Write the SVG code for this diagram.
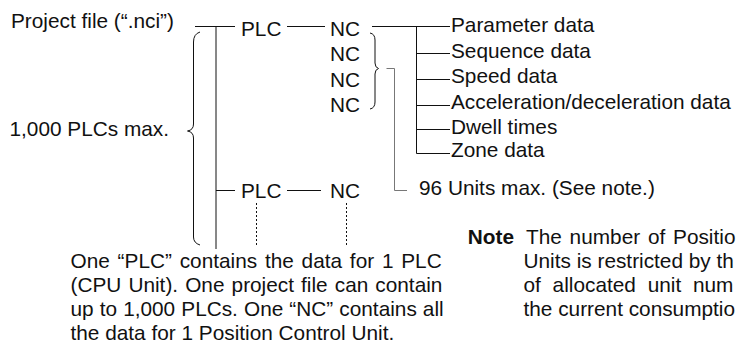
<svg xmlns="http://www.w3.org/2000/svg" width="736" height="343" viewBox="0 0 736 343">
<style>
text{font-family:"Liberation Sans",Arial,Helvetica,sans-serif;font-size:20.8px;fill:#111}
.b{font-weight:bold}
.ln{stroke:#111;stroke-width:1;fill:none}
.gr{stroke:#777;stroke-width:1;fill:none}
.dot{stroke:#111;stroke-width:1;fill:none;stroke-dasharray:2,2}
</style>
<rect width="736" height="343" fill="#fff"/>
<g id="connectors">
<path class="ln" d="M195,26.5H235M216,26.5V249M216,190.5H235"/>
<path class="ln" d="M200,32Q193.5,34 193.5,42V124Q193.5,130 187.5,131Q193.5,132 193.5,138V237Q193.5,243 200,245"/>
<path class="ln" d="M287,26.5H325M287,190.5H321"/>
<path class="ln" d="M372,26.5H450M416.5,26.5V153.5M416.5,53.5H450M416.5,79.5H450M416.5,105.5H450M416.5,129.5H450M416.5,153.5H450"/>
<path class="ln" d="M370,33Q375,34 375,40V63Q375,67.5 378.5,68.5Q375,69.5 375,74V102Q375,108 370,109"/>
<path class="gr" d="M386.5,68.5H394.5V190.5H407"/>
<path class="dot" d="M256.5,203V247M346.5,203V247"/>
</g>
<g id="project-file"><text x="11" y="28.3">Project file (“.nci”)</text></g>
<g id="plc-max"><text x="9.5" y="136">1,000 PLCs max.</text></g>
<g id="plc1"><text x="241" y="35.7">PLC</text></g>
<g id="nc1"><text x="330" y="35.7">NC</text></g>
<g id="nc2"><text x="330" y="61.2">NC</text></g>
<g id="nc3"><text x="330" y="86.7">NC</text></g>
<g id="nc4"><text x="330" y="112">NC</text></g>
<g id="param"><text x="451" y="31.7">Parameter data</text></g>
<g id="seq"><text x="451" y="57.5">Sequence data</text></g>
<g id="speed"><text x="451" y="83.3">Speed data</text></g>
<g id="accel"><text x="451" y="109">Acceleration/deceleration data</text></g>
<g id="dwell"><text x="451" y="133.5">Dwell times</text></g>
<g id="zone"><text x="451" y="157">Zone data</text></g>
<g id="units-max"><text x="419" y="195">96 Units max. (See note.)</text></g>
<g id="plc2"><text x="241" y="198.3">PLC</text></g>
<g id="nc5"><text x="330" y="198.3">NC</text></g>
<g id="description">
<text x="70.5" y="268" word-spacing="2">One “PLC” contains the data for 1 PLC</text>
<text x="70.5" y="292" word-spacing="1.3">(CPU Unit). One project file can contain</text>
<text x="70.5" y="316" word-spacing="0.3">up to 1,000 PLCs. One “NC” contains all</text>
<text x="70.5" y="340">the data for 1 Position Control Unit.</text>
</g>
<g id="note">
<text class="b" x="467.8" y="244">Note</text>
<text x="526" y="244" word-spacing="2">The number of Positio</text>
<text x="523.5" y="268">Units is restricted by th</text>
<text x="523.5" y="292" word-spacing="6">of allocated unit num</text>
<text x="523.5" y="316">the current consumptio</text>
</g>
</svg>
